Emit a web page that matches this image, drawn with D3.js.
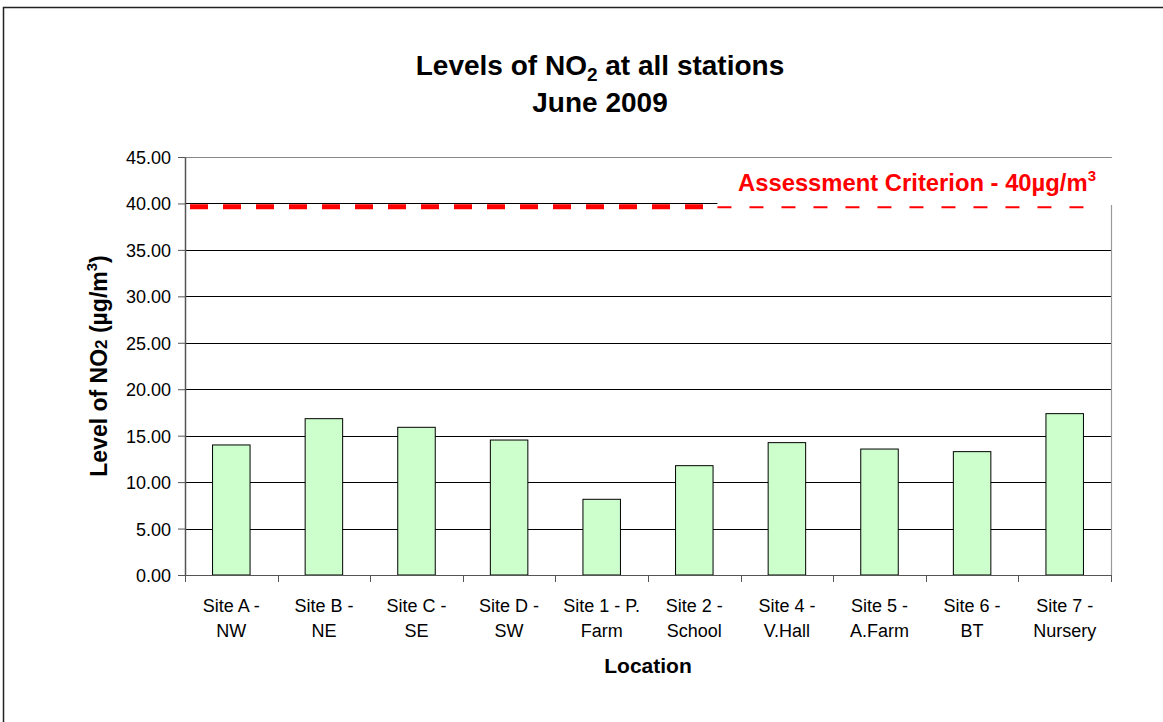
<!DOCTYPE html>
<html>
<head>
<meta charset="utf-8">
<script src="https://cdn.jsdelivr.net/npm/d3@7"></script>
<style>
  body { margin: 0; background: #fff; }
  svg { display: block; font-family: Arial, "Liberation Sans", sans-serif; }
</style>
</head>
<body>
<div id="chart"></div>
<script>
// data
const sites = ["Site A - NW", "Site B - NE", "Site C - SE", "Site D - SW", "Site 1 - P. Farm",
  "Site 2 - School", "Site 4 - V.Hall", "Site 5 - A.Farm", "Site 6 - BT", "Site 7 - Nursery"];
const siteLines = [["Site A -", "NW"], ["Site B -", "NE"], ["Site C -", "SE"], ["Site D -", "SW"],
  ["Site 1 - P.", "Farm"], ["Site 2 -", "School"], ["Site 4 -", "V.Hall"], ["Site 5 -", "A.Farm"],
  ["Site 6 -", "BT"], ["Site 7 -", "Nursery"]];
const no2 = [14.0, 16.83, 15.9, 14.53, 8.15, 11.77, 14.25, 13.56, 13.28, 17.37];
const yTicks = [0, 5, 10, 15, 20, 25, 30, 35, 40, 45];
// criterion line: [start, end] in category units, level
const criterion = 39.7;
const thickPart = [0, 5.75];
const thinPart = [5.75, 9.8];

const W = 1163, H = 722;
const margin = {left: 185, right: 52, top: 157, bottom: 147};
const width = W - margin.left - margin.right;
const height = H - margin.top - margin.bottom;

const svg = d3.select("#chart").append("svg")
  .attr("width", W).attr("height", H);

// outer chart border
svg.append("rect")
  .attr("x", 3.5).attr("y", 7.5)
  .attr("width", W + 20).attr("height", H + 20)
  .attr("fill", "none").attr("stroke", "#222").attr("stroke-width", 1.5);

const g = svg.append("g").attr("transform", `translate(${margin.left},${margin.top})`);

const x = d3.scaleBand().domain(sites).range([0, width]).paddingInner(0).paddingOuter(0);
const xi = d3.scaleLinear().domain([0, sites.length]).range([0, width]);
const y = d3.scaleLinear().domain([0, 45]).range([height, 0]);

// gridlines
g.append("g")
  .selectAll("line").data(yTicks.filter(d => d > 0))
  .enter().append("line")
  .attr("x1", 0).attr("x2", width)
  .attr("y1", d => Math.round(y(d)) + 0.5).attr("y2", d => Math.round(y(d)) + 0.5)
  .attr("stroke", d => d === 45 ? "#888" : "#000").attr("stroke-width", 1);

// right border of plot area
g.append("line")
  .attr("x1", width + 0.5).attr("x2", width + 0.5)
  .attr("y1", 0).attr("y2", height)
  .attr("stroke", "#999").attr("stroke-width", 1.2);

// bars
const barW = x.bandwidth() * 0.405;
g.selectAll(".bar").data(no2)
  .enter().append("rect")
  .attr("class", "bar")
  .attr("x", (d, i) => x(sites[i]) + (x.bandwidth() - barW) / 2)
  .attr("width", barW)
  .attr("y", d => y(d))
  .attr("height", d => height - y(d))
  .attr("fill", "#ccffcc")
  .attr("stroke", "#000").attr("stroke-width", 1);

// white box behind the criterion label (hides grid/border like the original)
g.append("rect")
  .attr("x", xi(thinPart[0])).attr("y", 1)
  .attr("width", width - xi(thinPart[0]) + 3).attr("height", 47)
  .attr("fill", "#fff");

// criterion line
g.append("line")
  .attr("x1", xi(thickPart[0]) + 5).attr("x2", xi(thickPart[1]))
  .attr("y1", y(criterion) + 0.5).attr("y2", y(criterion) + 0.5)
  .attr("stroke", "#ff0000").attr("stroke-width", 5)
  .attr("stroke-dasharray", "18,15");
g.append("line")
  .attr("x1", xi(thinPart[0])).attr("x2", xi(thinPart[1]))
  .attr("y1", y(criterion) + 1).attr("y2", y(criterion) + 1)
  .attr("stroke", "#ff0000").attr("stroke-width", 1.8)
  .attr("stroke-dasharray", "14,18");

// criterion label
const lab = g.append("text")
  .attr("x", 553).attr("y", 34)
  .attr("fill", "#ff0000").attr("font-weight", "bold").attr("font-size", 23.8);
lab.append("tspan").text("Assessment Criterion - 40µg/m");
lab.append("tspan").attr("dy", -10).attr("font-size", 15).text("3");

// y axis
const yAxis = g.append("g")
  .call(d3.axisLeft(y).tickValues(yTicks).tickFormat(d3.format(".2f")).tickSize(7).tickSizeOuter(0));
yAxis.select(".domain").attr("stroke", "#555").attr("stroke-width", 1.5);
yAxis.selectAll(".tick line").attr("stroke", "#555");
yAxis.selectAll("text").attr("font-size", 18).attr("fill", "#000").attr("x", -14).attr("dy", "0.36em");

// x axis
const xAxis = g.append("g").attr("transform", `translate(0,${height})`);
xAxis.append("line").attr("x1", 0).attr("x2", width).attr("y1", 0.5).attr("y2", 0.5)
  .attr("stroke", "#555").attr("stroke-width", 1.2);
xAxis.selectAll(".xtick").data(d3.range(sites.length + 1))
  .enter().append("line")
  .attr("x1", d => Math.round(xi(d)) + 0.5).attr("x2", d => Math.round(xi(d)) + 0.5)
  .attr("y1", 0).attr("y2", 7)
  .attr("stroke", "#555");
const xl = xAxis.selectAll(".xlab").data(sites)
  .enter().append("text")
  .attr("text-anchor", "middle").attr("font-size", 18).attr("fill", "#000")
  .attr("transform", d => `translate(${x(d) + x.bandwidth() / 2},0)`);
xl.append("tspan").attr("x", 0).attr("y", 37).text((d, i) => siteLines[i][0]);
xl.append("tspan").attr("x", 0).attr("y", 62).text((d, i) => siteLines[i][1]);

// axis titles
svg.append("text")
  .attr("x", 648).attr("y", 673)
  .attr("text-anchor", "middle").attr("font-weight", "bold").attr("font-size", 21)
  .text("Location");

const yt = svg.append("text")
  .attr("transform", `translate(107,${margin.top + height / 2}) rotate(-90)`)
  .attr("text-anchor", "middle").attr("font-weight", "bold").attr("font-size", 23);
yt.append("tspan").text("Level of NO");
yt.append("tspan").attr("font-size", 17).text("2");
yt.append("tspan").text(" (µg/m");
yt.append("tspan").attr("dy", -10).attr("font-size", 15).text("3");
yt.append("tspan").attr("dy", 10).text(")");

// title
const t1 = svg.append("text")
  .attr("x", 600).attr("y", 75)
  .attr("text-anchor", "middle").attr("font-weight", "bold").attr("font-size", 28);
t1.append("tspan").text("Levels of NO");
t1.append("tspan").attr("dy", 6).attr("font-size", 19).text("2");
t1.append("tspan").attr("dy", -6).text(" at all stations");
svg.append("text")
  .attr("x", 600).attr("y", 112)
  .attr("text-anchor", "middle").attr("font-weight", "bold").attr("font-size", 28)
  .text("June 2009");
</script>
</body>
</html>
